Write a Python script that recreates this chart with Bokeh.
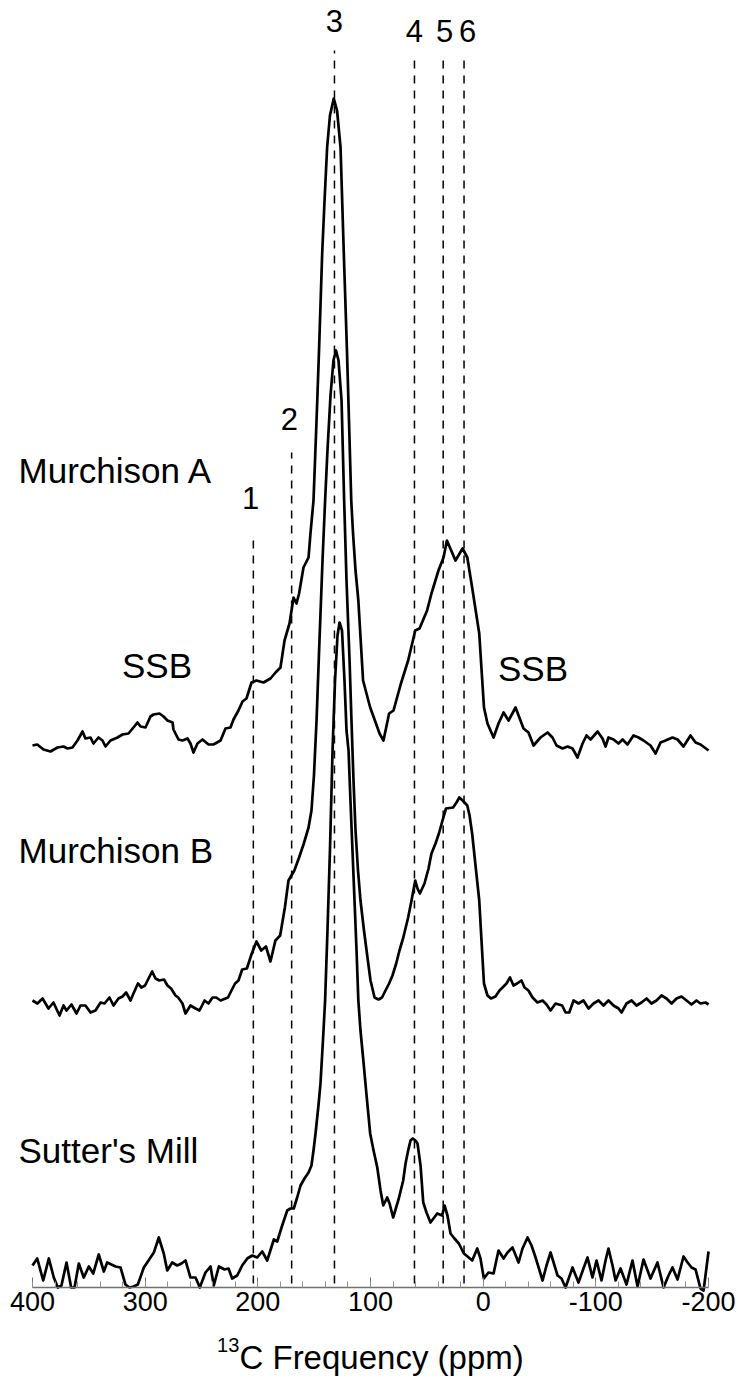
import numpy as np
from bokeh.plotting import figure
from bokeh.models import Range1d, FixedTicker, ColumnDataSource
from bokeh.core.properties import value
from bokeh.embed import file_html
from bokeh.resources import INLINE

# ---------------- data ----------------
ppm_a = [400.0, 395.8, 390.2, 384.0, 377.8, 372.5, 368.9, 364.5, 360.1, 355.6,
         353.0, 348.5, 345.9, 341.4, 337.9, 335.2, 330.8, 324.6, 320.1, 314.8,
         310.4, 306.8, 304.1, 299.7, 295.3, 292.6, 287.3, 283.7, 280.2, 275.7,
         274.9, 270.4, 266.9, 262.4, 259.8, 257.1, 253.6, 249.1, 243.8, 239.4,
         233.1, 228.7, 224.3, 221.6, 217.2, 213.6, 210.1, 205.6, 201.2, 195.0,
         188.8, 184.3, 179.9, 176.3, 171.9, 168.3, 165.7, 163.4, 159.5, 155.0,
         153.3, 150.6, 147.9, 145.7, 142.9, 140.8, 138.5, 136.0, 132.6, 129.7,
         126.6, 123.7, 120.9, 119.1, 117.1, 115.5, 113.3, 110.8, 106.6, 100.3,
         96.1, 92.0, 88.5, 83.5, 79.6, 73.0, 66.6, 60.3, 56.5, 49.8,
         45.9, 39.7, 35.2, 32.2, 24.6, 18.3, 14.1, 9.8, 3.5, -0.7,
         -3.8, -9.2, -13.6, -18.1, -22.5, -28.7, -35.8, -40.2, -44.7, -50.9,
         -57.1, -61.5, -65.1, -70.4, -74.9, -79.3, -83.7, -88.2, -91.7, -95.3,
         -101.5, -105.9, -108.6, -111.2, -115.7, -120.1, -123.7, -128.1, -133.4, -137.9,
         -142.3, -148.5, -153.0, -157.4, -161.8, -168.0, -172.5, -177.8, -184.0, -188.5,
         -192.9, -200.0]
int_a = [0, 1, -4, -6, -2, -1, -3, -2, 5, 14,
         7, 8, 2, 8, 5, -1, 5, 8, 11, 12,
         18, 23, 19, 18, 29, 31, 32, 29, 25, 23,
         16, 6, 5, 7, 2, -7, 2, 6, 1, 1,
         5, 17, 18, 26, 35, 44, 47, 63, 65, 63,
         67, 73, 78, 105, 122, 148, 142, 152, 178, 188,
         212, 245, 325, 395, 492, 545, 598, 630, 647, 635,
         598, 492, 395, 325, 245, 212, 175, 145, 65, 38,
         25, 12, 5, 32, 35, 62, 85, 115, 117, 135,
         152, 175, 188, 205, 185, 197, 188, 158, 112, 38,
         22, 8, 22, 33, 25, 38, 17, 13, 0, 8,
         13, 8, 0, -3, -1, -3, -12, 2, 10, 6,
         14, 7, -1, 8, 6, 2, 6, 1, 10, 8,
         5, 0, -8, 3, 5, 8, 6, -1, 10, 3,
         1, -5]

ppm_b = [400.0, 395.6, 391.1, 385.8, 381.4, 376.0, 372.5, 369.8, 365.4, 360.9,
         357.4, 353.0, 348.5, 344.1, 339.6, 336.1, 331.7, 328.1, 323.7, 320.1,
         316.9, 313.0, 310.4, 306.4, 303.3, 300.1, 297.0, 293.8, 290.8, 287.5,
         283.3, 280.2, 277.0, 273.1, 270.7, 266.9, 264.2, 259.8, 255.3, 251.8,
         247.3, 243.8, 240.2, 237.0, 233.1, 226.5, 223.4, 220.2, 217.2, 213.9,
         209.7, 205.4, 201.2, 197.0, 192.8, 188.8, 184.4, 180.2, 176.0, 172.8,
         167.6, 163.4, 159.2, 155.0, 152.4, 150.2, 147.9, 145.3, 142.6, 140.3,
         138.2, 135.5, 132.9, 130.6, 128.4, 125.7, 123.4, 121.3, 118.6, 116.9,
         115.1, 113.3, 111.1, 108.9, 105.8, 102.7, 100.0, 96.4, 92.9, 89.8,
         86.7, 83.5, 80.5, 77.2, 74.3, 70.9, 66.6, 63.6, 60.3, 58.3,
         56.2, 52.1, 48.5, 45.9, 42.3, 39.3, 36.1, 33.0, 26.7, 23.7,
         21.2, 18.3, 14.1, 12.1, 9.8, 6.8, 3.5, 1.5, -0.7, -3.8,
         -6.9, -10.9, -14.5, -17.2, -20.7, -23.8, -26.9, -30.1, -34.0, -36.7,
         -40.2, -43.8, -48.2, -52.7, -56.2, -59.8, -64.2, -70.1, -73.1, -76.4,
         -80.2, -84.6, -89.0, -93.5, -97.9, -102.4, -106.8, -111.2, -115.7, -120.1,
         -122.8, -127.2, -131.7, -136.1, -140.5, -145.0, -149.4, -153.8, -158.3, -162.7,
         -167.2, -171.6, -176.0, -180.5, -184.9, -189.3, -192.9, -197.3, -200.0]
int_b = [0, -3, 2, -8, -2, -15, -5, -10, -4, -13,
         -5, -5, -12, -10, -2, -3, 3, -5, 2, 4,
         8, 0, 7, 17, 13, 15, 22, 29, 22, 20,
         21, 15, 12, 5, 3, -3, -13, -5, -8, -10,
         0, -3, 3, 3, 0, 3, 10, 17, 20, 31,
         32, 47, 59, 50, 54, 39, 60, 65, 93, 120,
         130, 143, 157, 173, 190, 225, 280, 360, 440, 500,
         550, 605, 640, 650, 640, 600, 500, 420, 340, 280,
         220, 170, 130, 100, 70, 43, 20, 3, 1, 3,
         10, 17, 25, 37, 50, 63, 83, 100, 120, 112,
         107, 117, 132, 147, 157, 167, 180, 192, 193, 198,
         203, 200, 195, 185, 167, 135, 100, 60, 17, 5,
         2, 4, 10, 13, 17, 23, 15, 17, 20, 13,
         10, 3, -2, 0, -4, -10, -3, -5, -12, -12,
         0, -3, 0, -8, -3, 0, -5, 0, -5, -8,
         -12, -3, 0, -5, -2, 2, -3, 0, 5, 2,
         -3, 2, 4, 0, -4, 0, -3, -2, -4]

ppm_s = [400.0, 395.8, 390.5, 385.5, 381.1, 377.5, 374.3, 369.8, 365.7, 362.7,
         358.9, 354.5, 350.0, 346.1, 341.2, 336.7, 333.7, 326.3, 321.9, 317.5,
         313.9, 310.4, 306.5, 301.2, 297.0, 292.3, 287.9, 283.5, 280.4, 276.0,
         271.6, 267.8, 264.2, 259.8, 255.3, 251.5, 246.5, 242.0, 239.1, 234.6,
         229.6, 226.0, 222.8, 218.3, 213.9, 209.4, 205.0, 200.6, 196.1, 191.7,
         185.8, 182.8, 178.4, 173.9, 171.0, 168.1, 165.1, 162.1, 158.6, 155.0,
         152.4, 150.6, 148.8, 146.2, 144.4, 142.2, 140.3, 138.2, 136.0, 133.7,
         131.5, 129.3, 127.5, 125.3, 123.1, 121.3, 119.5, 117.8, 116.0, 114.2,
         112.4, 110.8, 108.9, 106.6, 103.5, 100.3, 97.3, 94.0, 91.1, 88.7,
         85.2, 83.1, 79.9, 74.9, 71.0, 68.9, 66.6, 64.5, 62.5, 60.1,
         58.3, 55.6, 53.2, 50.3, 46.8, 44.1, 40.8, 36.4, 34.3, 31.7,
         29.0, 25.5, 21.6, 17.2, 13.9, 9.7, 5.3, 2.4, -0.6, -4.7,
         -9.2, -13.6, -18.1, -21.6, -26.0, -31.4, -34.9, -39.4, -42.9, -46.5,
         -52.7, -56.2, -59.8, -63.3, -66.0, -69.5, -73.1, -79.3, -84.6, -89.0,
         -92.6, -97.0, -100.6, -105.0, -108.6, -111.2, -114.8, -117.5, -121.9, -127.2,
         -132.5, -137.0, -142.3, -148.5, -154.7, -160.1, -164.5, -168.0, -172.5, -177.8,
         -181.4, -184.9, -188.5, -192.9, -195.6, -200.0]
int_s = [0, 7, -15, 7, -12, -22, -20, 3, -22, -22,
         2, -12, -1, -8, 11, -6, 3, -1, -2, -19,
         -22, -21, -19, -2, 5, 13, 28, 12, -5, 3,
         0, 2, 5, -12, -12, -22, -7, -1, -20, -1,
         -4, -3, -13, -10, 0, 7, 10, 8, 14, 5,
         26, 24, 40, 55, 57, 57, 68, 80, 87, 93,
         100, 115, 132, 160, 182, 225, 265, 335, 415, 515,
         585, 630, 643, 635, 585, 535, 515, 465, 415, 365,
         315, 265, 235, 208, 170, 132, 115, 98, 75, 60,
         68, 62, 48, 67, 85, 102, 115, 125, 127, 125,
         122, 100, 63, 53, 43, 47, 52, 50, 60, 50,
         32, 27, 22, 12, 9, 5, 17, 7, -13, -7,
         -8, 15, 7, 13, 18, 3, 17, 28, 20, 8,
         -15, 0, 13, 0, -10, -13, -22, -2, -17, -3,
         8, -12, 5, -15, 5, 17, 0, -15, -3, -19,
         5, -21, 6, -13, 3, -22, -10, -2, -14, 9,
         3, -2, -4, -23, -25, 14]

sample_names = ["Murchison A", "Murchison B", "Sutter's Mill"]
peak_ppm = [204.0, 170.0, 132.0, 61.0, 35.5, 17.0]
peak_names = ["1", "2", "3", "4", "5", "6"]
x_ticks = [400, 300, 200, 100, 0, -100, -200]
x_tick_labels = ["400", "300", "200", "100", "0", "-100", "-200"]
minor_ticks = [400, 380, 360, 340, 320, 300, 280, 260, 240, 220, 200, 180, 160, 140,
               120, 100, 80, 60, 40, 20, 0, -20, -40, -60, -80, -100, -120, -140,
               -160, -180, -200]
axis_title = "C Frequency (ppm)"
axis_title_sup = "13"

# ---------------- layout / style ----------------
FONT = "Liberation Sans"
offsets = [542, 287, 22]           # vertical stacking of the three traces
name_pos = [(412.4, 817), (412.4, 437), (412.4, 137)]
ssb_pos = [(289.5, 622), (-44.2, 619)]
peak_label_pos = [(206.5, 790), (172.0, 869), (132.0, 1267), (61.0, 1257), (34.3, 1257), (13.9, 1257)]
dash_tops = [747, 835, 1237, 1229, 1229, 1229]
dash_bottom = 4

p = figure(width=738, height=1390, output_backend="svg", toolbar_location=None,
           x_range=Range1d(428.4, -226.6), y_range=Range1d(-103, 1287),
           y_axis_location=None, min_border=0)
p.min_border_left = 0
p.min_border_right = 0
p.min_border_top = 0
p.min_border_bottom = 0
p.outline_line_color = None
p.grid.visible = False
p.background_fill_color = "white"
p.border_fill_color = "white"

ax = p.xaxis[0]
ax.fixed_location = 0
ax.ticker = FixedTicker(ticks=x_ticks, minor_ticks=minor_ticks)
ax.major_label_overrides = {t: l for t, l in zip(x_ticks, x_tick_labels)}
ax.bounds = (-200, 400)
ax.axis_line_color = "#707070"
ax.axis_line_width = 1.5
ax.major_tick_line_color = "#707070"
ax.minor_tick_line_color = "#909090"
ax.major_tick_in = 10
ax.major_tick_out = 0
ax.minor_tick_in = 6
ax.minor_tick_out = 0
ax.major_label_standoff = 4
ax.major_label_text_font = FONT
ax.major_label_text_font_size = "27px"
ax.major_label_text_color = "black"

# dashed peak markers
p.segment(x0=peak_ppm, x1=peak_ppm, y0=[dash_bottom] * len(peak_ppm), y1=dash_tops,
          line_color="black", line_width=1.5, line_dash="8 7")

# spectra
for ppm, inten, off in zip([ppm_a, ppm_b, ppm_s], [int_a, int_b, int_s], offsets):
    p.line(ppm, np.array(inten, dtype=float) + off, line_color="black", line_width=2.7,
           line_join="round")

# sample names
src_names = ColumnDataSource(dict(x=[q[0] for q in name_pos], y=[q[1] for q in name_pos],
                                  t=sample_names))
p.text(x="x", y="y", text="t", source=src_names, text_font=value(FONT),
       text_font_size="35px", text_align="left", text_baseline="middle", text_color="black")

src_ssb = ColumnDataSource(dict(x=[q[0] for q in ssb_pos], y=[q[1] for q in ssb_pos],
                                t=["SSB", "SSB"]))
p.text(x="x", y="y", text="t", source=src_ssb, text_font=value(FONT),
       text_font_size="35px", text_align="center", text_baseline="middle", text_color="black")

src_peaks = ColumnDataSource(dict(x=[q[0] for q in peak_label_pos], y=[q[1] for q in peak_label_pos],
                                  t=peak_names))
p.text(x="x", y="y", text="t", source=src_peaks, text_font=value(FONT),
       text_font_size="31px", text_align="center", text_baseline="middle", text_color="black")

# axis title with superscript (drawn as text inside the extended frame)
p.text(x=[216.3], y=[-70], text=[axis_title], text_font=value(FONT),
       text_font_size="33px", text_align="left", text_baseline="middle", text_color="black")
p.text(x=[236.2], y=[-57], text=[axis_title_sup], text_font=value(FONT),
       text_font_size="20px", text_align="left", text_baseline="middle", text_color="black")

open("out.html", "w").write(file_html(p, INLINE))
